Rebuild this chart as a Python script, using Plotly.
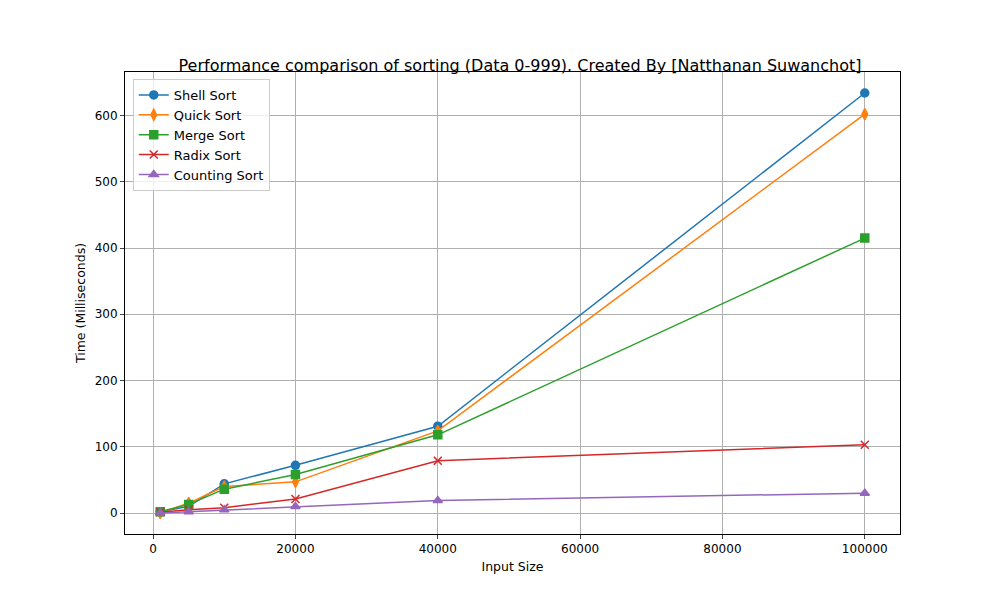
import plotly.graph_objects as go

sizes = [1000, 5000, 10000, 20000, 40000, 100000]
shell = [2, 10, 44, 72, 131, 634]
quick = [0, 15, 40, 47, 124, 602]
merge = [2, 13, 36, 58, 118, 415]
radix = [1, 5, 8, 21, 79, 103]
counting = [0, 2, 5, 10, 19, 30]

series = [
    ("Shell Sort", shell, "#1f77b4", "circle"),
    ("Quick Sort", quick, "#ff7f0e", "diamond-tall"),
    ("Merge Sort", merge, "#2ca02c", "square"),
    ("Radix Sort", radix, "#d62728", "x-thin"),
    ("Counting Sort", counting, "#9467bd", "triangle-up"),
]

fig = go.Figure()
for name, ys, c, sym in series:
    fig.add_trace(go.Scatter(x=sizes, y=ys, name=name, mode="lines+markers",
                             line=dict(color=c, width=1.5),
                             marker=dict(symbol=sym, size=8, color=c,
                                         line=dict(color=c, width=1.5))))

axis = dict(showgrid=True, gridcolor="#b0b0b0", gridwidth=1, showline=True, mirror=True,
            linecolor="black", linewidth=1, ticks="outside", ticklen=4, zeroline=False,
            tickfont=dict(size=12, color="black"))
fig.update_layout(
    width=1000, height=600, plot_bgcolor="white", paper_bgcolor="white",
    font=dict(family="DejaVu Sans", color="black", size=12),
    title=dict(text="Performance comparison of sorting (Data 0-999). Created By [Natthanan Suwanchot]",
               x=0.512, xanchor="center", y=0.895, yanchor="bottom", font=dict(size=16)),
    margin=dict(l=117, r=108, t=64, b=74),
    xaxis=dict(axis, title=dict(text="Input Size", standoff=6, font=dict(size=12.5)), range=[-3950, 104950],
               tickvals=[0, 20000, 40000, 60000, 80000, 100000], tickformat="d"),
    yaxis=dict(axis, title=dict(text="Time (Milliseconds)", standoff=6, font=dict(size=12.5)), range=[-31.7, 665.7],
               tickvals=[0, 100, 200, 300, 400, 500, 600]),
    legend=dict(x=0.01, y=0.985, xanchor="left", yanchor="top", bgcolor="rgba(255,255,255,0.8)",
                bordercolor="#cccccc", borderwidth=1, font=dict(size=13)),
)
fig.write_html("out.html")
